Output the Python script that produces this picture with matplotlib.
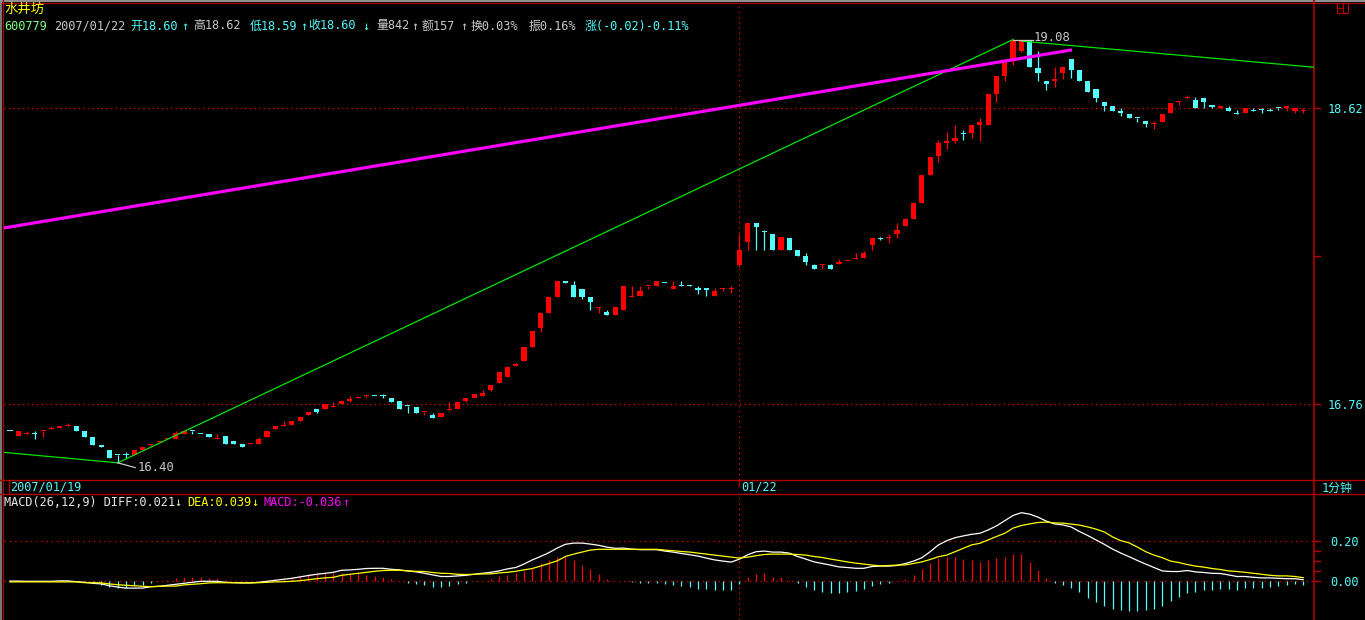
import numpy as np
import matplotlib.pyplot as plt
from matplotlib.patches import Rectangle

W, H = 1365, 620
plt.rcParams['font.family'] = ['DejaVu Sans Mono', 'Noto Sans CJK SC']

# 1-minute candles, 2007/01/19 (first 88) and 2007/01/22
opens = [
    16.59, 16.56, 16.57, 16.57, 16.59, 16.60, 16.61, 16.62, 16.62, 16.59,
    16.55, 16.50, 16.47, 16.44, 16.44, 16.44, 16.47, 16.50, 16.52, 16.54,
    16.54, 16.57, 16.59, 16.57, 16.57, 16.54, 16.56, 16.53, 16.51, 16.51,
    16.51, 16.55, 16.60, 16.62, 16.63, 16.65, 16.69, 16.73, 16.73, 16.74,
    16.76, 16.78, 16.80, 16.81, 16.81, 16.81, 16.80, 16.78, 16.75, 16.74,
    16.71, 16.69, 16.68, 16.72, 16.73, 16.78, 16.80, 16.81, 16.85, 16.89,
    16.93, 17.00, 17.03, 17.12, 17.24, 17.33, 17.43, 17.53, 17.51, 17.48,
    17.43, 17.36, 17.34, 17.32, 17.35, 17.43, 17.44, 17.50, 17.50, 17.52,
    17.48, 17.50, 17.51, 17.48, 17.48, 17.44, 17.48, 17.48, 17.63, 17.78,
    17.90, 17.84, 17.83, 17.73, 17.80, 17.73, 17.69, 17.63, 17.63, 17.63,
    17.64, 17.66, 17.67, 17.68, 17.76, 17.80, 17.80, 17.83, 17.88, 17.92,
    18.02, 18.20, 18.32, 18.40, 18.41, 18.46, 18.46, 18.51, 18.51, 18.71,
    18.82, 18.93, 18.98, 19.05, 18.87, 18.79, 18.79, 18.84, 18.93, 18.86,
    18.79, 18.74, 18.66, 18.63, 18.60, 18.58, 18.56, 18.54, 18.52, 18.53,
    18.59, 18.66, 18.68, 18.67, 18.68, 18.63, 18.62, 18.62, 18.58, 18.59,
    18.60, 18.61, 18.60, 18.62, 18.62, 18.60, 18.60,
]
closes = [
    16.589, 16.59, 16.571, 16.569, 16.591, 16.61, 16.62, 16.63, 16.59, 16.55,
    16.50, 16.49, 16.42, 16.439, 16.439, 16.47, 16.49, 16.501, 16.53, 16.541,
    16.58, 16.59, 16.589, 16.569, 16.55, 16.541, 16.51, 16.51, 16.49, 16.511,
    16.54, 16.59, 16.62, 16.621, 16.65, 16.68, 16.71, 16.71, 16.76, 16.741,
    16.78, 16.79, 16.801, 16.811, 16.809, 16.809, 16.77, 16.73, 16.749, 16.70,
    16.711, 16.67, 16.70, 16.721, 16.77, 16.80, 16.82, 16.83, 16.88, 16.96,
    16.99, 17.01, 17.12, 17.22, 17.33, 17.43, 17.53, 17.52, 17.43, 17.43,
    17.40, 17.37, 17.32, 17.37, 17.50, 17.431, 17.47, 17.501, 17.53, 17.519,
    17.50, 17.499, 17.50, 17.479, 17.479, 17.47, 17.481, 17.481, 17.73, 17.90,
    17.87, 17.839, 17.73, 17.81, 17.73, 17.69, 17.65, 17.61, 17.631, 17.61,
    17.65, 17.661, 17.68, 17.71, 17.80, 17.799, 17.801, 17.85, 17.92, 18.02,
    18.20, 18.31, 18.40, 18.41, 18.43, 18.459, 18.51, 18.53, 18.71, 18.82,
    18.91, 19.05, 19.05, 18.88, 18.84, 18.77, 18.80, 18.88, 18.86, 18.79,
    18.72, 18.68, 18.63, 18.60, 18.59, 18.56, 18.559, 18.52, 18.521, 18.58,
    18.65, 18.661, 18.69, 18.62, 18.66, 18.629, 18.63, 18.60, 18.579, 18.62,
    18.599, 18.609, 18.599, 18.619, 18.63, 18.62, 18.601,
]
highs = [
    16.59, 16.59, 16.59, 16.59, 16.591, 16.62, 16.62, 16.64, 16.62, 16.59,
    16.55, 16.50, 16.47, 16.44, 16.46, 16.47, 16.49, 16.51, 16.53, 16.541,
    16.59, 16.59, 16.59, 16.57, 16.57, 16.57, 16.56, 16.53, 16.51, 16.511,
    16.55, 16.59, 16.62, 16.65, 16.65, 16.68, 16.71, 16.73, 16.76, 16.77,
    16.78, 16.81, 16.81, 16.811, 16.81, 16.82, 16.80, 16.78, 16.75, 16.74,
    16.711, 16.70, 16.70, 16.77, 16.77, 16.80, 16.82, 16.85, 16.88, 16.96,
    17.00, 17.02, 17.12, 17.22, 17.33, 17.43, 17.53, 17.53, 17.53, 17.48,
    17.43, 17.37, 17.35, 17.37, 17.50, 17.50, 17.50, 17.501, 17.53, 17.52,
    17.53, 17.53, 17.51, 17.50, 17.48, 17.49, 17.49, 17.50, 17.83, 17.90,
    17.90, 17.85, 17.83, 17.81, 17.80, 17.73, 17.71, 17.64, 17.64, 17.64,
    17.67, 17.661, 17.71, 17.72, 17.80, 17.81, 17.83, 17.90, 17.92, 18.02,
    18.20, 18.31, 18.42, 18.47, 18.51, 18.48, 18.51, 18.56, 18.71, 18.82,
    18.91, 19.05, 19.05, 19.05, 18.98, 18.79, 18.88, 18.88, 18.93, 18.86,
    18.79, 18.74, 18.66, 18.63, 18.62, 18.58, 18.56, 18.54, 18.54, 18.58,
    18.65, 18.661, 18.70, 18.69, 18.68, 18.64, 18.63, 18.63, 18.61, 18.62,
    18.62, 18.62, 18.62, 18.62, 18.63, 18.62, 18.62,
]
lows = [
    16.589, 16.56, 16.57, 16.54, 16.55, 16.60, 16.61, 16.62, 16.59, 16.55,
    16.50, 16.49, 16.42, 16.39, 16.42, 16.44, 16.47, 16.49, 16.52, 16.54,
    16.54, 16.57, 16.57, 16.569, 16.55, 16.54, 16.51, 16.51, 16.49, 16.51,
    16.51, 16.55, 16.60, 16.62, 16.63, 16.65, 16.69, 16.70, 16.73, 16.74,
    16.76, 16.77, 16.80, 16.80, 16.809, 16.80, 16.77, 16.73, 16.70, 16.70,
    16.69, 16.67, 16.68, 16.72, 16.73, 16.77, 16.80, 16.81, 16.84, 16.89,
    16.93, 17.00, 17.03, 17.12, 17.21, 17.33, 17.43, 17.52, 17.43, 17.42,
    17.35, 17.33, 17.32, 17.32, 17.35, 17.43, 17.44, 17.48, 17.50, 17.519,
    17.48, 17.499, 17.50, 17.45, 17.44, 17.44, 17.47, 17.46, 17.62, 17.73,
    17.73, 17.73, 17.73, 17.73, 17.73, 17.69, 17.63, 17.61, 17.61, 17.61,
    17.64, 17.66, 17.67, 17.68, 17.73, 17.79, 17.77, 17.80, 17.88, 17.92,
    18.02, 18.20, 18.28, 18.36, 18.40, 18.42, 18.43, 18.41, 18.51, 18.66,
    18.79, 18.89, 18.97, 18.88, 18.79, 18.73, 18.75, 18.80, 18.81, 18.79,
    18.72, 18.66, 18.60, 18.60, 18.57, 18.56, 18.53, 18.50, 18.49, 18.53,
    18.59, 18.64, 18.68, 18.62, 18.62, 18.62, 18.62, 18.60, 18.579, 18.59,
    18.599, 18.59, 18.599, 18.61, 18.60, 18.59, 18.59,
]

diff = [
    0.001, 0.001, 0.0, 0.0, 0.0, 0.0, 0.002, 0.002, -0.002, -0.005,
    -0.010, -0.013, -0.022, -0.029, -0.034, -0.034, -0.034, -0.027, -0.025, -0.020,
    -0.015, -0.010, -0.005, 0.0, 0.0, 0.0, -0.005, -0.007, -0.008, -0.008,
    -0.005, 0.0, 0.005, 0.010, 0.015, 0.022, 0.029, 0.035, 0.040, 0.045,
    0.055, 0.057, 0.060, 0.064, 0.065, 0.065, 0.060, 0.057, 0.052, 0.047,
    0.040, 0.032, 0.024, 0.024, 0.027, 0.030, 0.035, 0.040, 0.045, 0.052,
    0.062, 0.069, 0.086, 0.107, 0.124, 0.143, 0.166, 0.185, 0.191, 0.191,
    0.186, 0.180, 0.171, 0.165, 0.166, 0.161, 0.158, 0.158, 0.158, 0.151,
    0.146, 0.139, 0.133, 0.126, 0.116, 0.107, 0.101, 0.096, 0.111, 0.133,
    0.148, 0.151, 0.146, 0.146, 0.141, 0.124, 0.111, 0.097, 0.089, 0.081,
    0.072, 0.069, 0.065, 0.065, 0.074, 0.076, 0.076, 0.079, 0.089, 0.101,
    0.118, 0.148, 0.182, 0.203, 0.218, 0.227, 0.235, 0.240, 0.257, 0.277,
    0.303, 0.329, 0.343, 0.336, 0.321, 0.301, 0.287, 0.282, 0.272, 0.249,
    0.229, 0.207, 0.185, 0.161, 0.141, 0.123, 0.104, 0.086, 0.069, 0.052,
    0.049, 0.049, 0.054, 0.047, 0.044, 0.040, 0.039, 0.032, 0.024, 0.024,
    0.020, 0.017, 0.017, 0.015, 0.013, 0.013, 0.008,
]
dea = [
    -0.003, -0.003, -0.003, -0.003, -0.003, -0.003, -0.003, -0.003, -0.003, -0.007,
    -0.007, -0.008, -0.013, -0.017, -0.020, -0.022, -0.025, -0.027, -0.025, -0.024,
    -0.024, -0.018, -0.015, -0.012, -0.008, -0.007, -0.007, -0.007, -0.008, -0.008,
    -0.007, -0.005, -0.003, -0.002, 0.0, 0.003, 0.008, 0.013, 0.017, 0.020,
    0.030, 0.035, 0.040, 0.045, 0.050, 0.054, 0.055, 0.055, 0.052, 0.050,
    0.049, 0.044, 0.040, 0.039, 0.035, 0.034, 0.035, 0.037, 0.037, 0.042,
    0.045, 0.050, 0.057, 0.064, 0.076, 0.089, 0.102, 0.124, 0.136, 0.146,
    0.156, 0.160, 0.160, 0.160, 0.160, 0.160, 0.160, 0.160, 0.160, 0.156,
    0.153, 0.149, 0.146, 0.141, 0.136, 0.131, 0.126, 0.121, 0.116, 0.121,
    0.128, 0.134, 0.136, 0.136, 0.136, 0.134, 0.131, 0.124, 0.119, 0.111,
    0.104, 0.097, 0.091, 0.086, 0.081, 0.077, 0.079, 0.081, 0.082, 0.089,
    0.097, 0.109, 0.123, 0.131, 0.148, 0.165, 0.182, 0.190, 0.207, 0.224,
    0.240, 0.266, 0.279, 0.287, 0.294, 0.296, 0.292, 0.291, 0.286, 0.281,
    0.272, 0.261, 0.247, 0.222, 0.203, 0.192, 0.171, 0.148, 0.131, 0.118,
    0.101, 0.094, 0.084, 0.076, 0.071, 0.064, 0.059, 0.052, 0.049, 0.045,
    0.040, 0.035, 0.030, 0.027, 0.027, 0.024, 0.018,
]
macd = [
    0.007, 0.005, 0.0, 0.0, 0.0, 0.0, 0.0, 0.004, 0.0, -0.003,
    -0.010, -0.018, -0.027, -0.032, -0.035, -0.023, -0.018, -0.008, 0.0, 0.007,
    0.017, 0.022, 0.022, 0.022, 0.017, 0.017, 0.007, 0.0, 0.0, 0.0,
    0.0, 0.005, 0.010, 0.018, 0.022, 0.030, 0.037, 0.040, 0.043, 0.040,
    0.043, 0.037, 0.040, 0.032, 0.027, 0.022, 0.010, 0.0, -0.007, -0.013,
    -0.018, -0.027, -0.027, -0.022, -0.012, -0.008, 0.0, 0.0, 0.010, 0.028,
    0.033, 0.043, 0.053, 0.068, 0.092, 0.107, 0.122, 0.122, 0.107, 0.082,
    0.062, 0.037, 0.010, 0.0, 0.0, -0.005, -0.008, -0.008, -0.010, -0.013,
    -0.018, -0.022, -0.028, -0.037, -0.038, -0.043, -0.043, -0.043, -0.013, 0.022,
    0.037, 0.042, 0.022, 0.022, 0.007, -0.010, -0.027, -0.043, -0.052, -0.057,
    -0.057, -0.052, -0.047, -0.037, -0.022, -0.013, -0.007, 0.0, 0.010, 0.030,
    0.060, 0.092, 0.118, 0.121, 0.121, 0.111, 0.106, 0.096, 0.106, 0.118,
    0.123, 0.136, 0.136, 0.096, 0.055, 0.015, -0.010, -0.020, -0.034, -0.054,
    -0.084, -0.104, -0.124, -0.139, -0.145, -0.150, -0.150, -0.145, -0.139, -0.124,
    -0.099, -0.079, -0.059, -0.054, -0.045, -0.045, -0.040, -0.040, -0.044, -0.035,
    -0.035, -0.035, -0.030, -0.025, -0.020, -0.015, -0.020,
]

day_start = 88                       # first bar of 01/22
price_ticks = [16.76, 18.62]
macd_ticks = [0.0, 0.20]
extreme_labels = ['19.08', '16.40']

# drawn lines, (bar index, price)
zigzag_x = [-0.8, 13, 121]
zigzag_y = [16.456, 16.39, 19.05]
fall_x = [122, 157.3]
fall_y = [19.04, 18.876]
pink_x = [-0.72, 128.1]
pink_y = [17.866, 18.985]

RED = '#ff0000'
CYAN = '#54fcfc'
FRAME = '#b00000'
GRID = '#c00000'
GRAY = '#c8c8c8'
YELLOW = '#ffff00'
MAGENTA = '#ff00ff'
GREEN = '#00e600'

fig = plt.figure(figsize=(W / 100, H / 100), dpi=100, facecolor='black')
bg = fig.add_axes([0, 0, 1, 1])
bg.set_xlim(0, W)
bg.set_ylim(H, 0)
bg.axis('off')


def px_axes(x0, y0, x1, y1):
    a = fig.add_axes([x0 / W, 1 - y1 / H, (x1 - x0) / W, (y1 - y0) / H])
    a.set_facecolor('none')
    for s in a.spines.values():
        s.set_visible(False)
    a.set_xticks([])
    a.set_xlim(-0.72, 157.3)
    return a


def put(x, y, s, color, size=8.6):
    bg.text(x, y, s, color=color, fontsize=size, ha='left', va='center')


# frame
bg.plot([0, W], [1, 1], color='#909090', lw=1.6)
bg.plot([0, W], [2.8, 2.8], color=FRAME, lw=0.8)
bg.plot([1, 1], [0, H], color='#909090', lw=1.2)
bg.plot([2.6, 2.6], [0, H], color=FRAME, lw=0.9)
bg.plot([0, W], [480, 480], color=FRAME, lw=1)
bg.plot([0, W], [494, 494], color=FRAME, lw=1)
bg.plot([1314, 1314], [0, H], color=FRAME, lw=1.2)
bg.plot([9, 9], [480, 494], color=FRAME, lw=1)
bg.plot([739, 739], [480, 486], color=FRAME, lw=1)
bg.add_patch(Rectangle((1337, 3), 11, 10, fill=False, ec=FRAME, lw=0.9))
bg.plot([1343, 1343], [3, 13], color=FRAME, lw=0.9)
bg.plot([1337, 1343], [8, 8], color=FRAME, lw=0.9)

# header
put(4, 9, '水井坊', YELLOW, 9.6)
header = [
    (4, '600779', '#80ff80'), (54, '2007/01/22', GRAY), (130, '开18.60', CYAN),
    (181, '↑', CYAN), (193, '高18.62', GRAY), (250, '低18.59', CYAN),
    (300, '↑', CYAN), (308, '收18.60', CYAN), (362, '↓', CYAN),
    (376, '量842', GRAY), (411, '↑', GRAY), (422, '额157', GRAY),
    (460, '↑', GRAY), (471, '换0.03%', GRAY), (529, '振0.16%', GRAY),
    (585, '涨(-0.02)-0.11%', CYAN),
]
for x, s, c in header:
    put(x, 26, s, c)

put(10, 487, '2007/01/19', CYAN)
put(741, 487, '01/22', CYAN)
put(1322, 488, '1分钟', CYAN)

macd_head = [
    (4, 'MACD(26,12,9) DIFF:0.021', '#e8e8e8'), (174, '↓', '#e8e8e8'),
    (187, 'DEA:0.039', YELLOW), (251, '↓', YELLOW),
    (264, 'MACD:-0.036', MAGENTA), (342, '↑', MAGENTA),
]
for x, s, c in macd_head:
    put(x, 503, s, c)

# price panel
ax = px_axes(4, 5, 1314, 480)
ax.set_ylim(16.282, 19.267)
o, hi, lo, c = (np.array(v) for v in (opens, highs, lows, closes))
idx = np.arange(len(o))
col = np.where(c >= o, RED, CYAN)

for p in price_ticks:
    ax.axhline(p, color=GRID, lw=0.9, ls=(0, (1.2, 2.5)), zorder=1)
ax.axvline(day_start, color=GRID, lw=0.9, ls=(0, (1.2, 3)), zorder=1)

ax.vlines(idx, lo, hi, colors=col, lw=0.9, zorder=2)
body = np.maximum(np.abs(c - o), 0.0065)
ax.bar(idx, body, bottom=np.minimum(o, c), width=0.62, color=col, lw=0, zorder=3)

ax.plot(zigzag_x, zigzag_y, color=GREEN, lw=0.9, zorder=4)
ax.plot(fall_x, fall_y, color=GREEN, lw=0.9, zorder=4)
ax.plot(pink_x, pink_y, color=MAGENTA, lw=2.3, zorder=5, solid_capstyle='butt')

hi_i = int(np.argmax(hi))
lo_i = int(np.argmin(lo))
ax.plot([hi_i, hi_i + 2.4], [hi[hi_i], hi[hi_i]], color=GRAY, lw=0.9, zorder=6)
ax.text(hi_i + 2.5, hi[hi_i] + 0.01, extreme_labels[0], color=GRAY, fontsize=8.8,
        va='center', ha='left', zorder=6)
ax.plot([lo_i, lo_i + 2.1], [lo[lo_i], lo[lo_i] - 0.03], color=GRAY, lw=0.9, zorder=6)
ax.text(lo_i + 2.4, lo[lo_i] - 0.03, extreme_labels[1], color=GRAY, fontsize=8.8,
        va='center', ha='left', zorder=6)

ax.yaxis.tick_right()
ax.set_yticks(price_ticks + [sum(price_ticks) / 2])
ax.set_yticklabels(['%.2f' % p for p in price_ticks] + [''])
ax.tick_params(axis='y', color=FRAME, labelcolor=CYAN, length=5, width=1,
               pad=5, labelsize=8.6)

# MACD panel
mx = px_axes(4, 495, 1314, 620)
mx.set_ylim(-0.1935, 0.4315)
for v in macd_ticks:
    mx.axhline(v, color=GRID, lw=0.9, ls=(0, (1.2, 3)), zorder=1)
mx.axvline(day_start, color=GRID, lw=0.9, ls=(0, (1.2, 3)), zorder=1)
m = np.array(macd)
mx.vlines(idx, 0, m, colors=np.where(m >= 0, RED, CYAN), lw=0.9, zorder=2)
mx.plot(idx, diff, color='white', lw=0.9, zorder=3)
mx.plot(idx, dea, color=YELLOW, lw=0.9, zorder=3)

mx.yaxis.tick_right()
mx.set_yticks(macd_ticks + [0.05, 0.10, 0.15])
mx.set_yticklabels(['%.2f' % v for v in macd_ticks] + ['', '', ''])
mx.tick_params(axis='y', color=FRAME, labelcolor=CYAN, length=5, width=1,
               pad=7, labelsize=8.6)

fig.savefig('out.png', dpi=100, facecolor='black')
